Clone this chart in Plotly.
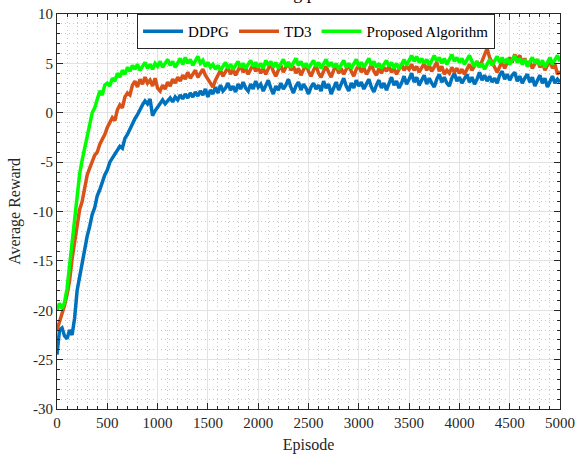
import plotly.graph_objects as go

episodes = list(range(0, 5001, 25))

ddpg = [
    -24.5, -22.0, -21.8, -22.6, -22.9, -22.0, -22.5, -20.8, -18.0, -16.5, -15.2, -14.0, -12.5, -11.5, -10.3, -9.6, -8.4, -7.8, -7.0, -6.3,
    -5.8, -5.0, -4.6, -4.2, -3.8, -3.4, -3.6, -2.6, -2.2, -1.6, -1.2, -0.6, -0.2, 0.4, 0.8, 1.2, 0.9, 1.4, -0.3, 0.2,
    0.6, 1.0, 1.3, 0.9, 1.2, 1.5, 1.1, 1.6, 1.3, 1.8, 1.4, 1.9, 1.5, 2.0, 1.6, 2.1, 1.7, 2.2, 1.8, 2.4,
    1.6, 2.3, 1.9, 2.6, 2.0, 2.8, 2.2, 2.5, 3.0, 2.3, 2.7, 2.1, 2.9, 2.4, 3.1, 2.5, 2.2, 2.9, 2.4, 3.2,
    2.6, 2.9, 2.2, 2.8, 3.3, 2.5, 1.9, 2.7, 2.3, 3.0, 2.4, 2.8, 3.4, 2.6, 2.0, 2.7, 3.1, 2.3, 2.9, 2.5,
    1.9, 2.6, 3.0, 2.4, 2.8, 2.2, 3.2, 2.5, 2.9, 1.9, 2.6, 3.1, 2.3, 2.9, 3.5, 2.7, 2.2, 3.0, 2.5, 3.3,
    2.7, 3.1, 2.4, 2.9, 3.4, 2.6, 2.1, 2.8, 3.3, 2.5, 3.0, 2.3, 2.9, 3.6, 2.8, 3.2, 2.5, 3.0, 3.7, 2.9,
    3.4, 4.0, 3.1, 3.6, 2.8, 3.3, 3.8, 2.9, 3.5, 3.0, 2.6, 3.4, 3.9, 3.1, 3.6, 3.0, 2.7, 3.5, 4.0, 3.2,
    3.6, 3.0, 3.4, 3.9, 3.1, 3.6, 2.9, 3.4, 4.1, 3.3, 3.8, 3.2, 3.7, 3.1, 3.5, 3.0, 3.8, 4.2, 3.4, 3.9,
    3.3, 3.8, 4.1, 3.2, 3.7, 3.0, 3.5, 3.9, 3.1, 3.6, 2.7, 3.3, 3.8, 3.0, 3.5, 2.6, 3.2, 3.7, 3.0, 3.4,
    3.1,
]

td3 = [
    -22.0, -21.2, -20.3, -19.5, -18.4, -17.0, -14.8, -13.2, -11.8, -9.8, -9.0, -7.4, -6.3, -5.6, -5.0, -4.3, -4.0, -3.2, -2.7, -2.2,
    -1.5, -0.9, -0.5, -0.8, 0.3, 0.8, 0.5, 1.6, 2.0, 1.8, 2.8, 3.2, 2.6, 3.4, 2.9, 3.6, 3.0, 3.3, 2.7, 3.5,
    2.5, 2.2, 2.8, 2.4, 3.1, 2.7, 3.4, 3.0, 3.6, 3.2, 3.8, 3.4, 4.1, 3.5, 3.9, 4.3, 3.6, 4.0, 4.4, 3.8,
    3.4, 2.9, 2.6, 3.3, 3.9, 4.3, 3.7, 4.2, 4.6, 3.9, 4.4, 3.8, 4.3, 4.8, 4.1, 4.5, 3.9, 4.4, 4.9, 4.2,
    4.6, 4.0, 4.5, 3.9, 4.4, 5.0, 4.2, 3.7, 4.3, 4.8, 4.1, 4.6, 5.1, 4.3, 4.7, 4.0, 4.5, 3.8, 4.4, 4.9,
    4.2, 3.7, 4.3, 4.8, 4.0, 3.6, 4.2, 4.7, 4.1, 3.6, 4.3, 4.8, 4.0, 4.5, 3.9, 4.4, 4.9, 4.2, 3.7, 4.4,
    4.8, 4.1, 4.6, 3.9, 4.3, 4.9, 4.2, 3.8, 4.5, 4.0, 4.6, 4.2, 4.7, 4.1, 4.5, 3.9, 4.4, 4.9, 4.3, 4.7,
    4.4, 4.9, 4.3, 4.7, 4.1, 4.6, 5.0, 4.3, 4.8, 4.2, 4.6, 5.1, 4.2, 4.7, 3.9, 4.3, 4.0, 4.6, 4.1, 4.5,
    4.0, 4.4, 3.9, 4.5, 4.9, 4.3, 4.8, 5.2, 4.6, 5.3, 5.8, 6.5, 5.6, 5.0, 4.6, 4.1, 4.7, 5.2, 4.5, 5.0,
    5.6, 5.1, 5.9, 5.4, 5.8, 5.0, 5.5, 4.8, 5.2, 4.5, 4.9, 5.4, 4.6, 5.1, 4.3, 4.8, 5.3, 4.5, 4.9, 3.9,
    4.2,
]

proposed = [
    -20.0, -19.3, -19.8, -19.2, -17.8, -15.5, -13.0, -11.0, -9.0, -6.2, -4.8, -3.6, -2.4, -1.4, 0.0, 0.5, 1.4, 2.2, 1.8, 2.8,
    3.0, 2.7, 3.5, 3.2, 4.0, 3.6, 4.3, 3.9, 4.6, 4.2, 4.8, 4.4, 4.9, 4.3, 4.7, 5.1, 4.5, 4.9, 4.4, 5.0,
    4.7, 5.2, 4.6, 5.0, 5.4, 4.8, 5.2, 4.6, 5.1, 5.5, 4.9, 5.6, 5.0, 5.4, 4.8, 5.3, 5.7, 5.0, 5.3, 4.7,
    5.1, 4.6, 4.9, 4.4, 4.8, 4.3, 4.7, 5.1, 4.5, 4.9, 4.4, 4.8, 5.2, 4.6, 5.0, 4.5, 4.9, 5.3, 4.7, 5.1,
    4.6, 5.0, 4.5, 5.3, 4.8, 5.2, 4.6, 5.1, 4.5, 4.9, 5.4, 4.7, 5.1, 4.6, 5.0, 5.5, 4.8, 5.2, 4.6, 5.0,
    4.5, 4.9, 5.3, 4.7, 5.1, 4.5, 4.9, 5.4, 4.7, 5.1, 4.6, 5.0, 4.4, 4.9, 5.3, 4.6, 5.0, 4.5, 4.9, 5.4,
    4.7, 5.1, 4.6, 5.0, 5.5, 4.8, 5.2, 4.6, 5.0, 4.5, 4.9, 5.3, 4.7, 5.1, 4.5, 5.0, 4.4, 4.9, 5.4, 4.8,
    5.3, 5.8, 5.2, 5.7, 5.1, 5.5, 5.0, 5.4, 4.8, 5.3, 5.8, 5.2, 5.6, 5.0, 5.5, 4.9, 5.4, 5.9, 5.2, 5.6,
    5.1, 5.5, 4.9, 5.3, 5.8, 5.2, 4.7, 5.2, 4.6, 5.0, 4.4, 4.9, 5.4, 4.8, 5.3, 5.7, 5.1, 5.6, 5.0, 5.5,
    4.9, 5.4, 5.8, 5.1, 5.5, 4.9, 5.4, 4.7, 5.2, 5.6, 5.0, 5.4, 4.8, 5.3, 4.6, 5.1, 5.6, 4.9, 5.4, 5.8,
    5.2,
]

series_names = ["DDPG", "TD3", "Proposed Algorithm"]
series_colors = ["#0072BD", "#D95319", "#00FF00"]
x_ticks = list(range(0, 5001, 500))
x_ticktext = [str(v) for v in x_ticks]
y_ticks = list(range(-30, 11, 5))
y_ticktext = ["-30", "-25", "-20", "-15", "-10", "-5", "0", "5", "10"]

FONT = "Liberation Serif"
AXC = "#262626"

fig = go.Figure()
for name, vals, col in zip(series_names, [ddpg, td3, proposed], series_colors):
    fig.add_trace(go.Scatter(x=episodes, y=vals, mode="lines", name=name,
                             line=dict(color=col, width=3.5)))

axis_common = dict(
    showline=True, linecolor=AXC, linewidth=1, mirror="allticks",
    ticks="inside", ticklen=6, tickcolor=AXC, tickwidth=1,
    showgrid=True, gridcolor="#e2e2e2", gridwidth=1.3,
    zeroline=False, automargin=False,
    tickfont=dict(family=FONT, size=15, color=AXC),
)
minor_common = dict(ticks="inside", ticklen=3, tickcolor=AXC,
                    showgrid=True, gridcolor="#c8c8c8", griddash="1px,3px", gridwidth=1)

fig.update_xaxes(
    range=[0, 5000], tickvals=x_ticks, ticktext=x_ticktext,
    minor=dict(dtick=100, **minor_common),
    title=dict(text="Episode", font=dict(family=FONT, size=16, color=AXC), standoff=8),
    **axis_common,
)
fig.update_yaxes(
    range=[-30, 10], tickvals=y_ticks, ticktext=y_ticktext,
    minor=dict(dtick=1, **minor_common),
    title=dict(text="Average Reward", font=dict(family=FONT, size=16, color=AXC), standoff=8),
    **axis_common,
)

fig.add_annotation(text="Training process", xref="paper", yref="paper",
                   x=0.485, y=1, xanchor="center", yanchor="bottom", yshift=9,
                   showarrow=False, font=dict(family=FONT, size=18, color="#000000"))

fig.update_layout(
    width=575, height=456,
    margin=dict(l=57, r=15, t=14, b=47, autoexpand=False),
    plot_bgcolor="white", paper_bgcolor="white",
    font=dict(family=FONT, color=AXC),
    showlegend=True,
    legend=dict(orientation="h", x=0.515, y=1.0, xanchor="center", yanchor="top",
                bgcolor="white", bordercolor=AXC, borderwidth=1,
                font=dict(family=FONT, size=15, color="#000000"),
                itemwidth=40, tracegroupgap=0),
)

fig.write_html("out.html", config={"displayModeBar": False},
               post_script="document.body.style.margin='0px';document.body.style.padding='0px';")
